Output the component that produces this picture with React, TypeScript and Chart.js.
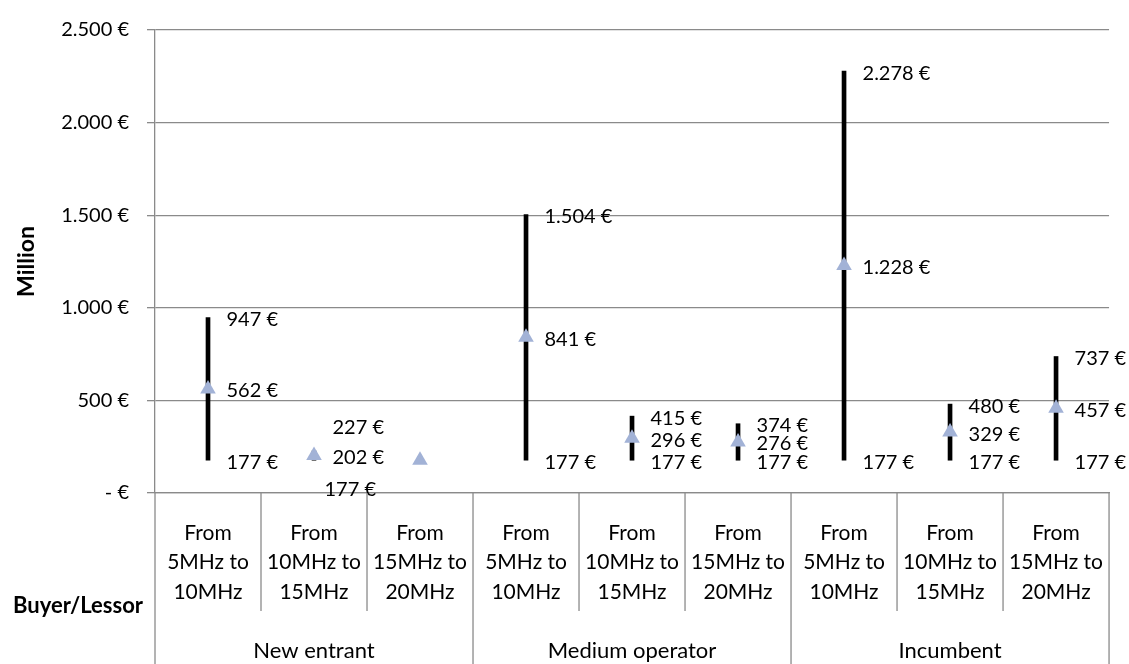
import React, { useEffect, useRef } from "react";
import { Chart, registerables } from "chart.js";

Chart.register(...registerables);

// ---------- data ----------
const groupNames = ["New entrant", "Medium operator", "Incumbent"];
const stepLabels = [
  ["From", "5MHz to", "10MHz"],
  ["From", "10MHz to", "15MHz"],
  ["From", "15MHz to", "20MHz"],
];
const categoryLabels = [...stepLabels, ...stepLabels, ...stepLabels];
const categoryGroup = [0, 0, 0, 1, 1, 1, 2, 2, 2];
const highValues = [947, 227, 177, 1504, 415, 374, 2278, 480, 737];
const midValues = [562, 202, 177, 841, 296, 276, 1228, 329, 457];
const lowValues = [177, 177, 177, 177, 177, 177, 177, 177, 177];
const labelledCategories = [true, true, false, true, true, true, true, true, true];
const yTickValues = [0, 500, 1000, 1500, 2000, 2500];
const yAxisTitle = "Million";
const xAxisTitle = "Buyer/Lessor";

// ---------- style ----------
const FONT = "Lato, 'Open Sans', sans-serif";
const GRID = "#8a8a8a";
const GRID_W = 1.3;
const TRIANGLE = "#a2b2d6";
const LABEL_DX = 18.5;
const LABEL_DY = 2;
// manual nudges of individual data labels (category index - which label)
const labelNudges: Record<string, [number, number]> = {
  "1-high": [0, -25],
  "1-low": [-8, 27],
};

function formatEuro(v: number): string {
  if (v === 0) return "- €";
  const s = String(Math.round(v)).replace(/\B(?=(\d{3})+(?!\d))/g, ".");
  return s + " €";
}

const dataLabelPlugin = {
  id: "dataLabels",
  afterDatasetsDraw(chart: any) {
    const { ctx } = chart;
    const xs = chart.scales.x;
    const ys = chart.scales.y;
    ctx.save();
    ctx.font = `20px ${FONT}`;
    ctx.fillStyle = "#000";
    ctx.textAlign = "left";
    ctx.textBaseline = "middle";
    for (let i = 0; i < highValues.length; i++) {
      if (!labelledCategories[i]) continue;
      const px = xs.getPixelForValue(i);
      const entries: [string, number][] = [
        ["high", highValues[i]],
        ["mid", midValues[i]],
        ["low", lowValues[i]],
      ];
      for (const [key, v] of entries) {
        const n = labelNudges[`${i}-${key}`] || [0, 0];
        ctx.fillText(formatEuro(v), px + LABEL_DX + n[0], ys.getPixelForValue(v) + LABEL_DY + n[1]);
      }
    }
    ctx.restore();
  },
};

const tablePlugin = {
  id: "categoryTable",
  afterDraw(chart: any) {
    const { ctx } = chart;
    const xs = chart.scales.x;
    const top = chart.chartArea.bottom;
    const bottom = chart.height;
    const subBottom = top + 118;
    ctx.save();
    ctx.strokeStyle = GRID;
    ctx.lineWidth = GRID_W;
    const n = categoryLabels.length;
    for (let i = 0; i <= n; i++) {
      const bx = xs.getPixelForValue(i - 0.5);
      const isGroupEdge = i === 0 || i === n || categoryGroup[i] !== categoryGroup[i - 1];
      ctx.beginPath();
      ctx.moveTo(bx, top);
      ctx.lineTo(bx, isGroupEdge ? bottom : subBottom);
      ctx.stroke();
    }
    // group labels
    ctx.fillStyle = "#000";
    ctx.font = `22px ${FONT}`;
    ctx.textAlign = "center";
    ctx.textBaseline = "middle";
    groupNames.forEach((name, g) => {
      const idx = categoryGroup.map((c, i) => (c === g ? i : -1)).filter((i) => i >= 0);
      const x0 = xs.getPixelForValue(idx[0] - 0.5);
      const x1 = xs.getPixelForValue(idx[idx.length - 1] + 0.5);
      ctx.fillText(name, (x0 + x1) / 2, top + 158);
    });
    // x axis title at left of table
    ctx.font = `bold 22px ${FONT}`;
    ctx.textAlign = "right";
    ctx.fillText(xAxisTitle, chart.chartArea.left - 12, top + 113);
    ctx.restore();
  },
};

export default function App() {
  const canvasRef = useRef<HTMLCanvasElement | null>(null);

  useEffect(() => {
    if (!canvasRef.current) return;
    Chart.defaults.font.family = FONT;
    const chart = new Chart(canvasRef.current, {
      type: "bar",
      data: {
        labels: categoryLabels as any,
        datasets: [
          {
            type: "line",
            label: "Mid",
            data: midValues,
            showLine: false,
            pointStyle: "triangle",
            pointRadius: 9,
            pointHoverRadius: 9,
            pointBackgroundColor: TRIANGLE,
            pointBorderColor: TRIANGLE,
            pointBorderWidth: 0,
            order: 1,
          } as any,
          {
            type: "bar",
            label: "Range",
            data: lowValues.map((l, i) => [l, highValues[i]]) as any,
            backgroundColor: "#000",
            borderWidth: 0,
            borderSkipped: false,
            barThickness: 4,
            order: 2,
          } as any,
        ],
      },
      options: {
        animation: false,
        responsive: false,
        events: [],
        layout: { padding: { left: 0, right: 18, top: 25, bottom: 0 } },
        plugins: {
          legend: { display: false },
          tooltip: { enabled: false },
          title: { display: false },
        },
        scales: {
          x: {
            type: "category",
            offset: true,
            grid: { display: false, drawTicks: false },
            border: { display: true, color: GRID, width: GRID_W },
            ticks: {
              color: "#000",
              font: { family: FONT, size: 21, lineHeight: 1.405 },
              padding: 25,
              maxRotation: 0,
              autoSkip: false,
            },
            afterFit: (s: any) => {
              s.height = 171;
            },
          },
          y: {
            min: 0,
            max: 2500,
            afterBuildTicks: (s: any) => {
              s.ticks = yTickValues.map((v) => ({ value: v }));
            },
            ticks: {
              color: "#000",
              font: { family: FONT, size: 20 },
              padding: 18,
              callback: (v: any) => formatEuro(Number(v)),
            },
            grid: { color: GRID, lineWidth: GRID_W, tickLength: 8, drawTicks: true },
            border: { display: true, color: GRID, width: GRID_W },
            title: {
              display: true,
              text: yAxisTitle,
              color: "#000",
              font: { family: FONT, size: 23, weight: "bold" },
              padding: { top: 13, bottom: 0 },
            },
            afterFit: (s: any) => {
              s.width = 155;
            },
          },
        },
      },
      plugins: [dataLabelPlugin, tablePlugin],
    });
    return () => chart.destroy();
  }, []);

  return (
    <div style={{ position: "fixed", left: 0, top: 0, width: 1129, height: 664, background: "#fff" }}>
      <canvas ref={canvasRef} width={1129} height={664} style={{ display: "block", width: 1129, height: 664 }} />
    </div>
  );
}
